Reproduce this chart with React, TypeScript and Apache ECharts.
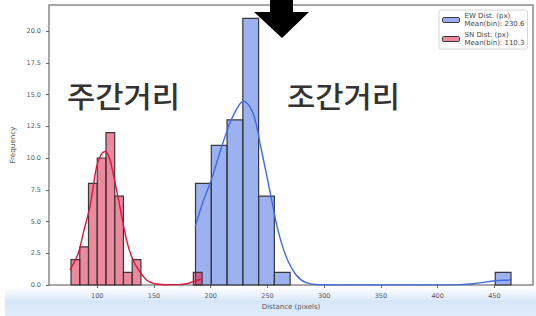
import React, { useEffect, useRef } from "react";
import * as echarts from "echarts";

// Histogram bins
const ewBinStart = 186.6;
const ewBinWidth = 13.9;
const ewCounts = [8, 11, 13, 21, 7, 1, 0, 0, 0, 0, 0, 0, 0, 0, 0, 0, 0, 0, 0, 1];

const snBinStart = 76.9;
const snBinWidth = 7.7;
const snCounts = [2, 3, 8, 10, 12, 7, 1, 2, 0, 0, 0, 0, 0, 0, 1];

// KDE curves
const ewKdeX = [186.3, 193, 200.6, 210.8, 219.6, 229.0, 237.2, 244.6, 251.9, 259.2, 266.5, 275.3, 284.1, 296, 330, 380, 420, 433.6, 451.2, 465.3];
const ewKdeY = [4.6, 6.5, 8.3, 11.2, 13.3, 14.47, 13.55, 10.65, 7.5, 4.34, 2.23, 0.79, 0.18, 0.02, 0.0, 0.0, 0.03, 0.13, 0.34, 0.4];

const snKdeX = [76, 83.3, 88, 93.6, 99.4, 103, 107.3, 111, 114, 119.9, 125.8, 130, 134.6, 143.4, 152.2, 162, 172, 180, 184.4, 191.8];
const snKdeY = [1.18, 2.5, 4.2, 6.2, 9.3, 10.2, 10.52, 9.9, 8.8, 6.2, 3.55, 2.3, 1.45, 0.4, 0.08, 0.02, 0.03, 0.12, 0.26, 0.45];

const xTicks = [100, 150, 200, 250, 300, 350, 400, 450];
const yTicks = [0, 2.5, 5, 7.5, 10, 12.5, 15, 17.5, 20];

const ewName = "EW Dist. (px)";
const snName = "SN Dist. (px)";
const ewMean = "Mean(bin): 230.6";
const snMean = "Mean(bin): 110.3";

const leftLabel = "주간거리";
const rightLabel = "조간거리";

function binData(start: number, width: number, counts: number[]) {
  const out: number[][] = [];
  counts.forEach((c, i) => {
    if (c > 0) out.push([start + i * width, start + (i + 1) * width, c]);
  });
  return out;
}

function histSeries(name: string, data: number[][], fill: string) {
  return {
    name,
    type: "custom",
    data,
    encode: { x: [0, 1], y: 2 },
    itemStyle: { color: fill },
    renderItem: (params: any, api: any) => {
      const x0 = api.value(0);
      const x1 = api.value(1);
      const h = api.value(2);
      const p0 = api.coord([x0, h]);
      const p1 = api.coord([x1, 0]);
      return {
        type: "rect",
        shape: { x: p0[0], y: p0[1], width: p1[0] - p0[0], height: p1[1] - p0[1] },
        style: { fill, stroke: "#383838", lineWidth: 1.2 },
      };
    },
  };
}

export default function App() {
  const ref = useRef<HTMLDivElement>(null);
  useEffect(() => {
    if (!ref.current) return;
    const chart = echarts.init(ref.current, null, { renderer: "svg" });
    const tickFont = { fontFamily: "DejaVu Sans", fontSize: 6.5, color: "#555" };
    chart.setOption({
      animation: false,
      backgroundColor: "#fff",
      grid: {
        left: 49,
        right: 3,
        top: 5,
        bottom: 31,
        show: true,
        borderColor: "#8a8a8a",
        borderWidth: 1.5,
        backgroundColor: "#fff",
      },
      xAxis: {
        type: "value",
        min: 57.5,
        max: 484,
        name: "Distance (pixels)",
        nameLocation: "middle",
        nameGap: 16,
        nameTextStyle: { fontFamily: "DejaVu Sans", fontSize: 7, color: "#555" },
        splitLine: { show: false },
        axisLine: { show: false },
        axisTick: { show: true, length: 3, lineStyle: { color: "#666" }, customValues: xTicks },
        axisLabel: { ...tickFont, margin: 7, customValues: xTicks },
      },
      yAxis: {
        type: "value",
        min: 0,
        max: 22.05,
        name: "Frequency",
        nameLocation: "middle",
        nameRotate: 90,
        nameGap: 30,
        nameTextStyle: { fontFamily: "DejaVu Sans", fontSize: 7.2, color: "#555" },
        splitLine: { show: false },
        axisLine: { show: false },
        axisTick: { show: true, length: 3, lineStyle: { color: "#666" }, customValues: yTicks },
        axisLabel: {
          ...tickFont,
          margin: 8,
          customValues: yTicks,
          formatter: (v: number) => v.toFixed(1),
        },
      },
      legend: {
        left: 439,
        top: 10,
        orient: "vertical",
        padding: [2, 3, 2, 3],
        itemGap: 3,
        itemWidth: 17,
        itemHeight: 5,
        backgroundColor: "rgba(255,255,255,0.85)",
        borderColor: "#d6d6d6",
        borderWidth: 1,
        borderRadius: 2,
        textStyle: { fontFamily: "DejaVu Sans", fontSize: 7, lineHeight: 8, color: "#444" },
        formatter: (n: string) => (n === ewName ? n + "\n" + ewMean : n + "\n" + snMean),
        data: [
          { name: ewName, icon: "roundRect", itemStyle: { color: "rgba(65,105,225,0.55)", borderColor: "#383838", borderWidth: 1 } },
          { name: snName, icon: "roundRect", itemStyle: { color: "rgba(220,20,60,0.5)", borderColor: "#383838", borderWidth: 1 } },
        ],
      },
      series: [
        histSeries(ewName, binData(ewBinStart, ewBinWidth, ewCounts), "rgba(65,105,225,0.52)"),
        histSeries(snName, binData(snBinStart, snBinWidth, snCounts), "rgba(220,20,60,0.5)"),
        {
          name: "EW KDE",
          type: "line",
          data: ewKdeX.map((x, i) => [x, ewKdeY[i]]),
          smooth: 0.35,
          showSymbol: false,
          lineStyle: { color: "#4169e1", width: 1.4 },
          z: 3,
        },
        {
          name: "SN KDE",
          type: "line",
          data: snKdeX.map((x, i) => [x, snKdeY[i]]),
          smooth: 0.35,
          showSymbol: false,
          lineStyle: { color: "#dc143c", width: 1.4 },
          z: 3,
        },
      ],
      graphic: [
        {
          type: "rect",
          z: -1,
          silent: true,
          shape: { x: 5, y: 289, width: 531, height: 27 },
          style: {
            fill: new echarts.graphic.LinearGradient(0, 0, 0, 1, [
              { offset: 0, color: "rgba(230,240,252,0.3)" },
              { offset: 0.45, color: "rgba(208,226,248,0.85)" },
              { offset: 1, color: "rgba(226,238,252,1)" },
            ]),
          },
        },
        {
          type: "polygon",
          z: 100,
          shape: {
            points: [
              [270, 0],
              [293, 0],
              [293, 12],
              [309, 12],
              [282, 38],
              [254, 12],
              [270, 12],
            ],
          },
          style: { fill: "#000" },
        },
        {
          type: "text",
          z: 100,
          x: 67,
          y: 95,
          scaleX: 1.06,
          style: {
            text: leftLabel,
            font: '500 29px "Noto Sans CJK KR"',
            fill: "#333",
            verticalAlign: "middle",
          },
        },
        {
          type: "text",
          z: 100,
          x: 287,
          y: 95,
          scaleX: 1.06,
          style: {
            text: rightLabel,
            font: '500 29px "Noto Sans CJK KR"',
            fill: "#333",
            verticalAlign: "middle",
          },
        },
      ],
    });
    return () => chart.dispose();
  }, []);
  return <div ref={ref} style={{ width: 536, height: 316, position: "absolute", left: 0, top: 0 }} />;
}
